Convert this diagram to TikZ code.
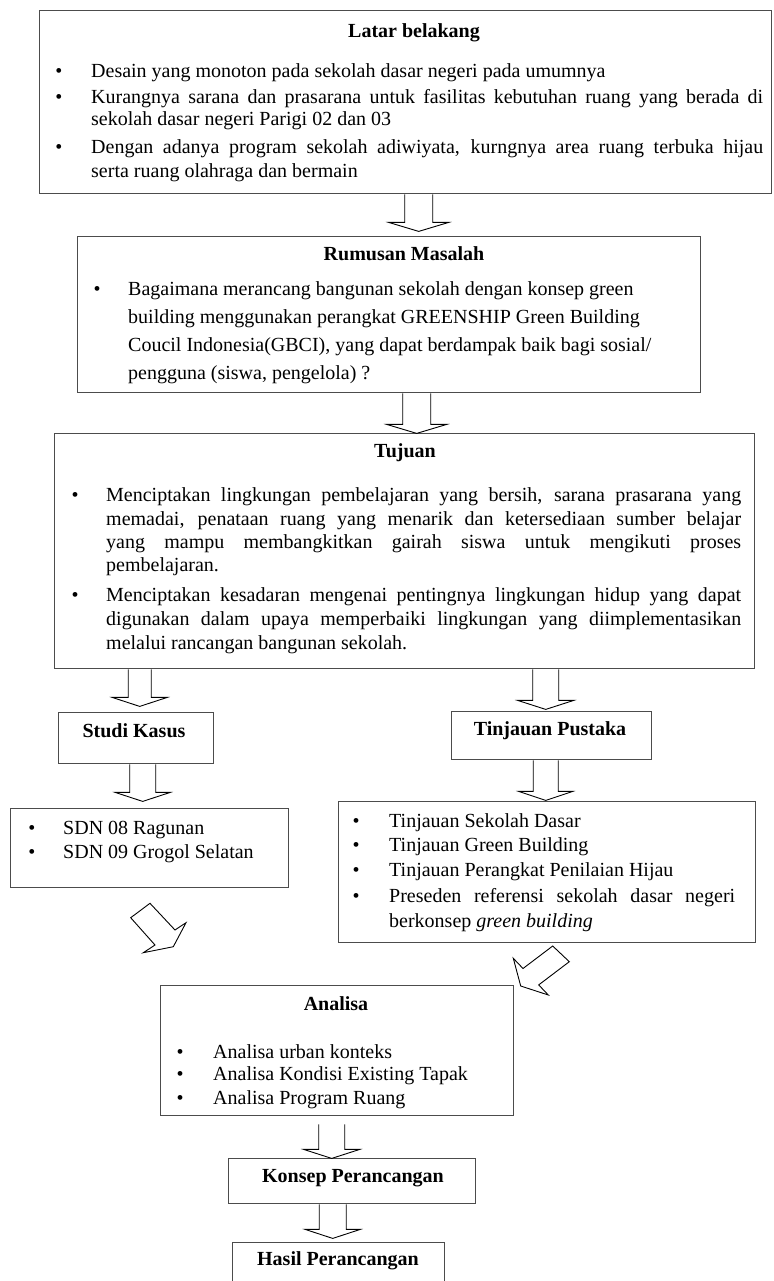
\documentclass[tikz,border=0pt]{standalone}
\usepackage{fontspec}
\setmainfont{Liberation Serif}
\usetikzlibrary{calc}
\newcommand\fs{\fontsize{20pt}{23pt}\selectfont}
\newcommand\jus[2]{\makebox[#1pt][s]{#2}}
% vertical block arrow: #1 start coordinate, #2 length, #3 half shaft, #4 half head
\newcommand\varr[4]{%
  \begin{scope}[shift={(#1)}, rotate=-90, x=1pt, y=1pt]
    \draw[arr] (0,#3) -- ({#2-9},#3) -- ({#2-9},#4) -- (#2,0) -- ({#2-9},-#4) -- ({#2-9},-#3) -- (0,-#3);
  \end{scope}}
\begin{document}
\begin{tikzpicture}[x=1pt,y=-1pt, font=\fs,
  box/.style={draw=black!70, line width=1.4pt, inner sep=0pt, anchor=north west},
  ttl/.style={font=\fs\bfseries, anchor=mid, inner sep=0pt},
  ln/.style={anchor=mid west, inner sep=0pt},
  bul/.style={anchor=mid, inner sep=0pt},
  arr/.style={draw=black, line width=0.9pt, line join=miter}]
\useasboundingbox (0,0) rectangle (773,1281);
\clip (0,0) rectangle (773,1281);

% Latar belakang
\node[box, minimum width=732, minimum height=183] (b1) at (39,10) {};
\node[ttl] (b1t) at (414,35) {Latar belakang};
\node[bul] (b1p1) at (59,75) {\textbullet};
\node[ln] (b1l1) at (91,75) {Desain yang monoton pada sekolah dasar negeri pada umumnya};
\node[bul] (b1p2) at (59,101) {\textbullet};
\node[ln] (b1l2) at (91,101) {\jus{672}{Kurangnya sarana dan prasarana untuk fasilitas kebutuhan ruang yang berada di}};
\node[ln] (b1l3) at (91,123) {sekolah dasar negeri Parigi 02 dan 03};
\node[bul] (b1p3) at (59,151) {\textbullet};
\node[ln] (b1l4) at (91,151) {\jus{672}{Dengan adanya program sekolah adiwiyata, kurngnya area ruang terbuka hijau}};
\node[ln] (b1l5) at (91,175) {serta ruang olahraga dan bermain};

% Rumusan Masalah
\node[box, minimum width=623, minimum height=156] (b2) at (77,236) {};
\node[ttl] (b2t) at (404,258) {Rumusan Masalah};
\node[bul] (b2p1) at (97,293) {\textbullet};
\node[ln] (b2l1) at (128,293) {Bagaimana merancang bangunan sekolah dengan konsep green};
\node[ln] (b2l2) at (128,321) {building menggunakan perangkat GREENSHIP Green Building};
\node[ln] (b2l3) at (128,349) {Coucil Indonesia(GBCI), yang dapat berdampak baik bagi sosial/};
\node[ln] (b2l4) at (128,377) {pengguna (siswa, pengelola) ?};

% Tujuan
\node[box, minimum width=700, minimum height=235] (b3) at (54,433) {};
\node[ttl] (b3t) at (405,455) {Tujuan};
\node[bul] (b3p1) at (75,499) {\textbullet};
\node[ln] (b3l1) at (106,499) {\jus{635}{Menciptakan lingkungan pembelajaran yang bersih, sarana prasarana yang}};
\node[ln] (b3l2) at (106,523) {\jus{635}{memadai, penataan ruang yang menarik dan ketersediaan sumber belajar}};
\node[ln] (b3l3) at (106,546) {\jus{635}{yang mampu membangkitkan gairah siswa untuk mengikuti proses}};
\node[ln] (b3l4) at (106,569) {pembelajaran.};
\node[bul] (b3p2) at (75,599) {\textbullet};
\node[ln] (b3l5) at (106,599) {\jus{635}{Menciptakan kesadaran mengenai pentingnya lingkungan hidup yang dapat}};
\node[ln] (b3l6) at (106,623) {\jus{635}{digunakan dalam upaya memperbaiki lingkungan yang diimplementasikan}};
\node[ln] (b3l7) at (106,647) {melalui rancangan bangunan sekolah.};

% Studi Kasus / Tinjauan Pustaka
\node[box, minimum width=155, minimum height=51] (b4) at (58,712) {};
\node[ttl] (b4t) at (134,735) {Studi Kasus};
\node[box, minimum width=200, minimum height=48] (b5) at (451,711) {};
\node[ttl] (b5t) at (550,733) {Tinjauan Pustaka};

% SDN list
\node[box, minimum width=278, minimum height=79] (b6) at (10,808) {};
\node[bul] (b6p1) at (32,832) {\textbullet};
\node[ln] (b6l1) at (63,832) {SDN 08 Ragunan};
\node[bul] (b6p2) at (32,856) {\textbullet};
\node[ln] (b6l2) at (63,856) {SDN 09 Grogol Selatan};

% Tinjauan list
\node[box, minimum width=417, minimum height=141] (b7) at (338,801) {};
\node[bul] (b7p1) at (356,825) {\textbullet};
\node[ln] (b7l1) at (389,825) {Tinjauan Sekolah Dasar};
\node[bul] (b7p2) at (356,849) {\textbullet};
\node[ln] (b7l2) at (389,849) {Tinjauan Green Building};
\node[bul] (b7p3) at (356,874) {\textbullet};
\node[ln] (b7l3) at (389,874) {Tinjauan Perangkat Penilaian Hijau};
\node[bul] (b7p4) at (356,900) {\textbullet};
\node[ln] (b7l4) at (389,900) {\jus{346}{Preseden referensi sekolah dasar negeri}};
\node[ln] (b7l5) at (389,925) {berkonsep \textit{green building}};

% Analisa
\node[box, minimum width=353, minimum height=130] (b8) at (160,985) {};
\node[ttl] (b8t) at (336,1008) {Analisa};
\node[bul] (b8p1) at (180,1056) {\textbullet};
\node[ln] (b8l1) at (213,1056) {Analisa urban konteks};
\node[bul] (b8p2) at (180,1078) {\textbullet};
\node[ln] (b8l2) at (213,1078) {Analisa Kondisi Existing Tapak};
\node[bul] (b8p3) at (180,1102) {\textbullet};
\node[ln] (b8l3) at (213,1102) {Analisa Program Ruang};

% Konsep / Hasil
\node[box, minimum width=247, minimum height=45] (b9) at (228,1158) {};
\node[ttl] (b9t) at (353,1180) {Konsep Perancangan};
\node[box, minimum width=212, minimum height=60] (b10) at (232,1242) {};
\node[ttl] (b10t) at (338,1263) {Hasil Perancangan};

% vertical block arrows
\coordinate (a1) at ($(b1.south)+(13,0)$);
\coordinate (a2) at ($(b2.south)+(27.5,0)$);
\coordinate (a3) at ($(b3.south)+(-265,0)$);
\coordinate (a4) at ($(b3.south)+(141,0)$);
\coordinate (a5) at ($(b4.south)+(6.5,0)$);
\coordinate (a6) at ($(b5.south)+(-6,0)$);
\coordinate (a7) at ($(b8.south)+(-5.5,8)$);
\coordinate (a8) at ($(b9.south)+(-19.5,0)$);
\varr{a1}{37}{14}{30}
\varr{a2}{40}{14}{30}
\varr{a3}{37}{11.5}{27.5}
\varr{a4}{40}{13}{28}
\varr{a5}{37}{13}{27.5}
\varr{a6}{40}{12.5}{27}
\varr{a7}{34}{13}{28}
\varr{a8}{34}{13.5}{27.5}

% diagonal block arrows (towards Analisa)
\coordinate (d1) at (130.7,917.7);
\begin{scope}[shift={(d1)}]
  \draw[arr] (0,0) -- (19.3,-14.4) -- (44.3,12.3) -- (55.3,5) -- (42.6,29) -- (12.6,35) -- (24.3,27.3) -- cycle;
\end{scope}
\coordinate (d2) at (552.7,946);
\begin{scope}[shift={(d2)}]
  \draw[arr] (0,0) -- (-29.7,22.5) -- (-39.4,12.3) -- (-32,40) -- (-4.4,49) -- (-14,38.9) -- (16.6,15.7) -- cycle;
\end{scope}
\end{tikzpicture}
\end{document}
